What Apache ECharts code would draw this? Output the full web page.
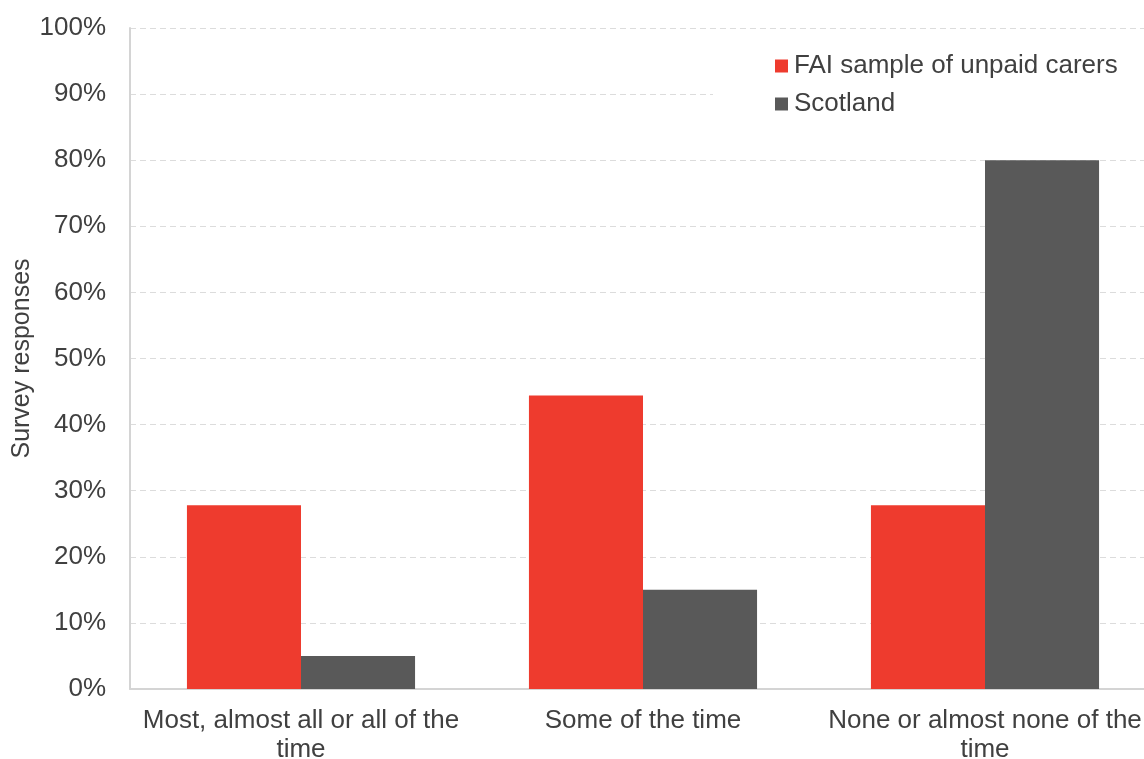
<!DOCTYPE html>
<html>
<head>
<meta charset="utf-8">
<script src="https://cdn.jsdelivr.net/npm/echarts@6/dist/echarts.min.js"></script>
<style>html,body{margin:0;padding:0;background:#fff;}#c{width:1144px;height:759px;}</style>
</head>
<body>
<div id="c"></div>
<script>
const categories = ['Most, almost all or all of the\ntime', 'Some of the time', 'None or almost none of the\ntime'];
const faiValues = [27.8, 44.4, 27.8];
const scotlandValues = [5, 15, 80];
const seriesNames = ['FAI sample of unpaid carers', 'Scotland'];

const chart = echarts.init(document.getElementById('c'));
const textColor = '#404040';
const font = 'Liberation Sans, Arial, sans-serif';
chart.setOption({
  animation: false,
  backgroundColor: '#fff',
  textStyle: { fontFamily: font },
  legend: {
    orient: 'vertical',
    left: 713,
    top: 30,
    width: 431,
    padding: [23, 40, 20, 62],
    backgroundColor: '#fff',
    itemWidth: 13,
    itemHeight: 13,
    itemGap: 12,
    icon: 'rect',
    textStyle: { color: textColor, fontSize: 26, fontFamily: font, padding: [0, 0, 0, 1] },
    data: seriesNames
  },
  grid: { left: 130, top: 28, bottom: 70, width: 1026, containLabel: false, outerBoundsMode: 'none' },
  xAxis: {
    type: 'category',
    data: categories,
    axisLine: { lineStyle: { color: '#d4d4d4', width: 2 } },
    axisTick: { show: false },
    axisLabel: { color: textColor, fontSize: 26, fontFamily: font, margin: 17, lineHeight: 29, interval: 0 }
  },
  yAxis: {
    type: 'value',
    min: 0, max: 100, interval: 10,
    name: 'Survey responses',
    nameLocation: 'middle',
    nameRotate: 90,
    nameGap: 95,
    nameMoveOverlap: false,
    nameTextStyle: { color: textColor, fontSize: 25, fontFamily: font },
    axisLine: { show: true, lineStyle: { color: '#d4d4d4', width: 2 } },
    axisTick: { show: false },
    axisLabel: { color: textColor, fontSize: 26, fontFamily: font, margin: 24, formatter: '{value}%' },
    splitLine: { lineStyle: { color: '#dcdcdc', type: [6, 4], width: 1 } }
  },
  series: [
    { name: seriesNames[0], type: 'bar', data: faiValues, barGap: '0%', barCategoryGap: '33.3%', itemStyle: { color: '#EE3B2E' } },
    { name: seriesNames[1], type: 'bar', data: scotlandValues, itemStyle: { color: '#595959' } }
  ]
});
</script>
</body>
</html>
